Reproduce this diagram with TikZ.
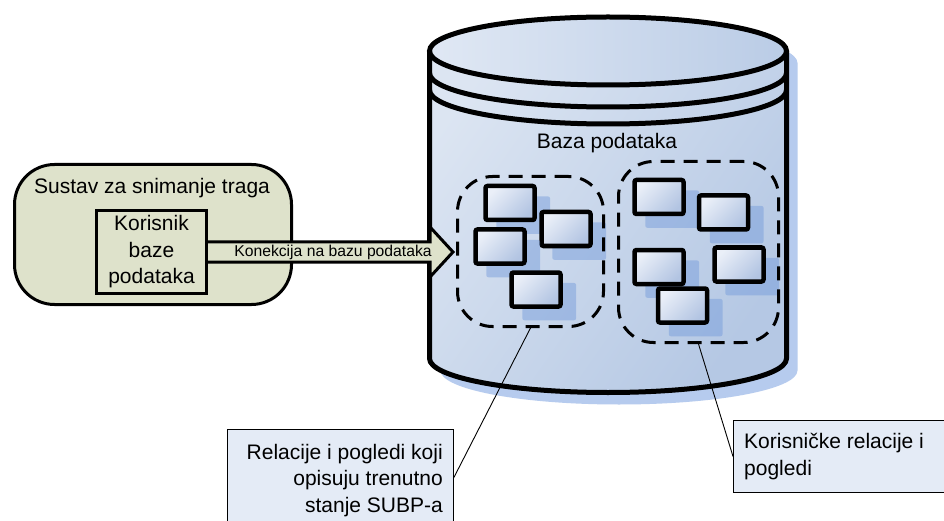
\documentclass[tikz,border=0pt]{standalone}
\usepackage{fontspec}
\setmainfont{Liberation Sans}
\usetikzlibrary{shadows}

\definecolor{sysgreen}{RGB}{222,226,203}
\definecolor{cylLight}{RGB}{220,229,242}
\definecolor{cylDark}{RGB}{181,200,228}
\definecolor{topLight}{RGB}{224,232,244}
\definecolor{topDark}{RGB}{186,204,230}
\definecolor{cylShadow}{RGB}{182,203,238}
\definecolor{tblLight}{RGB}{234,239,248}
\definecolor{tblDark}{RGB}{178,196,226}
\definecolor{tblShadow}{RGB}{112,152,218}
\definecolor{noteFill}{RGB}{228,235,246}

\tikzset{
  txt/.style={font=\fontsize{21}{26.5}\selectfont},
  tbl/.style={draw, line width=4.5pt, rounded corners=2pt, inner sep=0pt,
    minimum width=49pt, minimum height=34pt,
    top color=tblLight, bottom color=tblDark, shading angle=45,
    drop shadow={shadow xshift=12pt, shadow yshift=-11pt, shadow scale=1.1,
      draw=none, fill=tblShadow, opacity=0.45}},
  grp/.style={draw, line width=3pt, dash pattern=on 14pt off 9pt,
    rounded corners=35pt, inner sep=0pt},
  greenbox/.style={draw, line width=3pt, fill=sysgreen},
  note/.style={draw, line width=0.9pt, fill=noteFill, inner sep=0pt, anchor=north west},
  leader/.style={line width=0.9pt},
}

\begin{document}
\begin{tikzpicture}[x=1pt, y=-1pt]
\clip (0,0) rectangle (944,521);
\fill[white] (0,0) rectangle (944,521);

% database cylinder: shadow, body, lid and rings
\fill[cylShadow, shift={(11,12)}]
  (429.5,51) -- (429.5,358.5) arc[start angle=180, end angle=0, x radius=178.5, y radius=34]
  -- (786.5,51) arc[start angle=0, end angle=-180, x radius=178.5, y radius=34] -- cycle;
\shade[top color=cylLight, bottom color=cylDark, shading angle=55]
  (429.5,51) -- (429.5,358.5) arc[start angle=180, end angle=0, x radius=178.5, y radius=34]
  -- (786.5,51) arc[start angle=0, end angle=-180, x radius=178.5, y radius=34] -- cycle;
\shade[left color=topLight, right color=topDark]
  (608,51) ellipse [x radius=178.5, y radius=34];
\draw[line width=5pt, line join=round]
  (429.5,51) -- (429.5,358.5) arc[start angle=180, end angle=0, x radius=178.5, y radius=34]
  -- (786.5,51);
\draw[line width=5pt] (608,51) ellipse [x radius=178.5, y radius=34];
\draw[line width=5pt] (429.5,73) arc[start angle=180, end angle=0, x radius=178.5, y radius=34];
\draw[line width=5pt] (429.5,90) arc[start angle=180, end angle=0, x radius=178.5, y radius=34];

\node[txt] (dbname) at (607,143) {Baza podataka};

% system relations and views
\node[tbl] (t1) at (510,203) {};
\node[tbl] (t2) at (566,229) {};
\node[tbl] (t3) at (500,246.5) {};
\node[tbl] (t4) at (536,289.5) {};
% user relations and views
\node[tbl] (t5) at (659,197) {};
\node[tbl] (t6) at (723.5,212.5) {};
\node[tbl] (t7) at (659,267) {};
\node[tbl] (t8) at (739,264.5) {};
\node[tbl] (t9) at (682.5,305.5) {};

\node[grp, minimum width=146pt, minimum height=150pt] (grpL) at (530.5,251.5) {};
\node[grp, minimum width=160pt, minimum height=181pt] (grpR) at (698.5,252) {};

% tracing system with its database user
\node[greenbox, rounded corners=40pt, minimum width=277pt, minimum height=140pt] (sys) at (153,234.5) {};
\node[txt] (systitle) at (152,188) {Sustav za snimanje traga};
\node[greenbox, txt, align=center, minimum width=110pt, minimum height=83pt, inner sep=0pt] (user) at (151.5,252)
  {Korisnik\\baze\\podataka};

% block arrow for the connection
\draw[line width=3pt, fill=sysgreen, line join=miter]
  ([yshift=10pt]user.east) -- (430,242) -- (430,227) -- (453,252)
  -- (430,277) -- (430,262) -- ([yshift=-10pt]user.east);
\node[font=\fontsize{15.7}{18}\selectfont] (conn) at (333,252) {Konekcija na bazu podataka};

% callouts
\node[note, minimum width=226pt, minimum height=96pt] (noteL) at (227,429) {};
\node[txt, align=right, anchor=base east, inner sep=0pt] (noteLtext) at (443,512)
  {Relacije i pogledi koji\\opisuju trenutno\\stanje SUBP-a};
\node[note, minimum width=217pt, minimum height=72pt] (noteR) at (733,420) {};
\node[txt, align=left, anchor=base west, inner sep=0pt] (noteRtext) at (744,475)
  {Korisničke relacije i\\pogledi};

\draw[leader] (grpL.south) -- (noteL.east);
\draw[leader] (grpR.south) -- (noteR.west);
\end{tikzpicture}
\end{document}
